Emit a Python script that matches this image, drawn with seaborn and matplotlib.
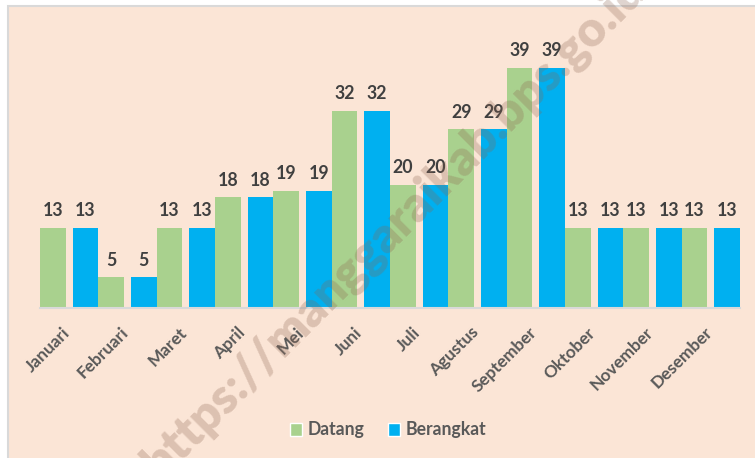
import matplotlib
matplotlib.use("Agg")
import matplotlib.pyplot as plt
import matplotlib.transforms as mtransforms
from matplotlib.patches import Rectangle
import seaborn as sns
import pandas as pd

# ---- data ----
months = ["Januari", "Februari", "Maret", "April", "Mei", "Juni", "Juli",
          "Agustus", "September", "Oktober", "November", "Desember"]
datang = [13, 5, 13, 18, 19, 32, 20, 29, 39, 13, 13, 13]
berangkat = [13, 5, 13, 18, 19, 32, 20, 29, 39, 13, 13, 13]
series = ["Datang", "Berangkat"]
colors = ["#A9D18E", "#00B0F0"]
watermark = "https://manggaraikab.bps.go.id"

df = pd.DataFrame({
    "Bulan": months * 2,
    "Jumlah": datang + berangkat,
    "Keterangan": [series[0]] * len(months) + [series[1]] * len(months),
})

sns.set_theme(style="white")
plt.rcParams["font.family"] = ["Lato", "DejaVu Sans"]

W, H = 755, 458
fig = plt.figure(figsize=(W / 100, H / 100), dpi=100, facecolor="white")
fig.patches.append(Rectangle((7.5 / W, -0.02), 1.1, 1 - 5.5 / H + 0.02,
                             transform=fig.transFigure, facecolor="#FBE5D6",
                             edgecolor="#D9D9D9", lw=1.5, zorder=-5))

ymax = 45
px_per_unit = 6.154
ax = fig.add_axes([40 / W, 150.3 / H, 700 / W, ymax * px_per_unit / H])
ax.set_facecolor("none")
ax.set_zorder(1)

sns.barplot(data=df, x="Bulan", y="Jumlah", hue="Keterangan", hue_order=series,
            palette=colors, width=1.0, gap=0.115, saturation=1, ax=ax,
            order=months)

handles, labels = ax.get_legend_handles_labels()
if ax.legend_ is not None:
    ax.legend_.remove()

for cont, shift in zip(ax.containers, [-0.029, 0.029]):
    for p in cont:
        p.set_x(p.get_x() + shift)
        p.set_linewidth(0)
    ax.bar_label(cont, padding=6, fontsize=12.8, fontweight="bold", color="#404040")

ax.set_xlim(-0.5, 11.5)
ax.set_ylim(0, ymax)
for s in ["top", "left", "right"]:
    ax.spines[s].set_visible(False)
ax.spines["bottom"].set_color("#D9D9D9")
ax.spines["bottom"].set_linewidth(1.5)
ax.set_yticks([])
ax.set_xlabel("")
ax.set_ylabel("")
ax.tick_params(axis="x", length=0, pad=12)
offset = mtransforms.ScaledTranslation(-7 / 100, 0, fig.dpi_scale_trans)
for lbl in ax.get_xticklabels():
    lbl.set_rotation(45)
    lbl.set_ha("right")
    lbl.set_va("top")
    lbl.set_rotation_mode("anchor")
    lbl.set_fontsize(12.4)
    lbl.set_fontweight("bold")
    lbl.set_color("#595959")
    lbl.set_transform(lbl.get_transform() + offset)

leg = fig.legend(handles, labels, loc="center", bbox_to_anchor=(388 / W, 1 - 430 / H),
                 ncol=2, frameon=False, handlelength=0.7, handleheight=0.7,
                 handletextpad=0.3, columnspacing=1.3,
                 prop={"size": 12.7, "weight": "bold"}, labelcolor="#595959")

fig.text(160 / W, 1 - 480 / H, watermark, rotation=45, rotation_mode="anchor",
         ha="left", va="baseline", fontsize=35, fontweight="heavy",
         color="#8C6450", alpha=0.28, zorder=10)

fig.savefig("out.png", dpi=100, facecolor="white")
